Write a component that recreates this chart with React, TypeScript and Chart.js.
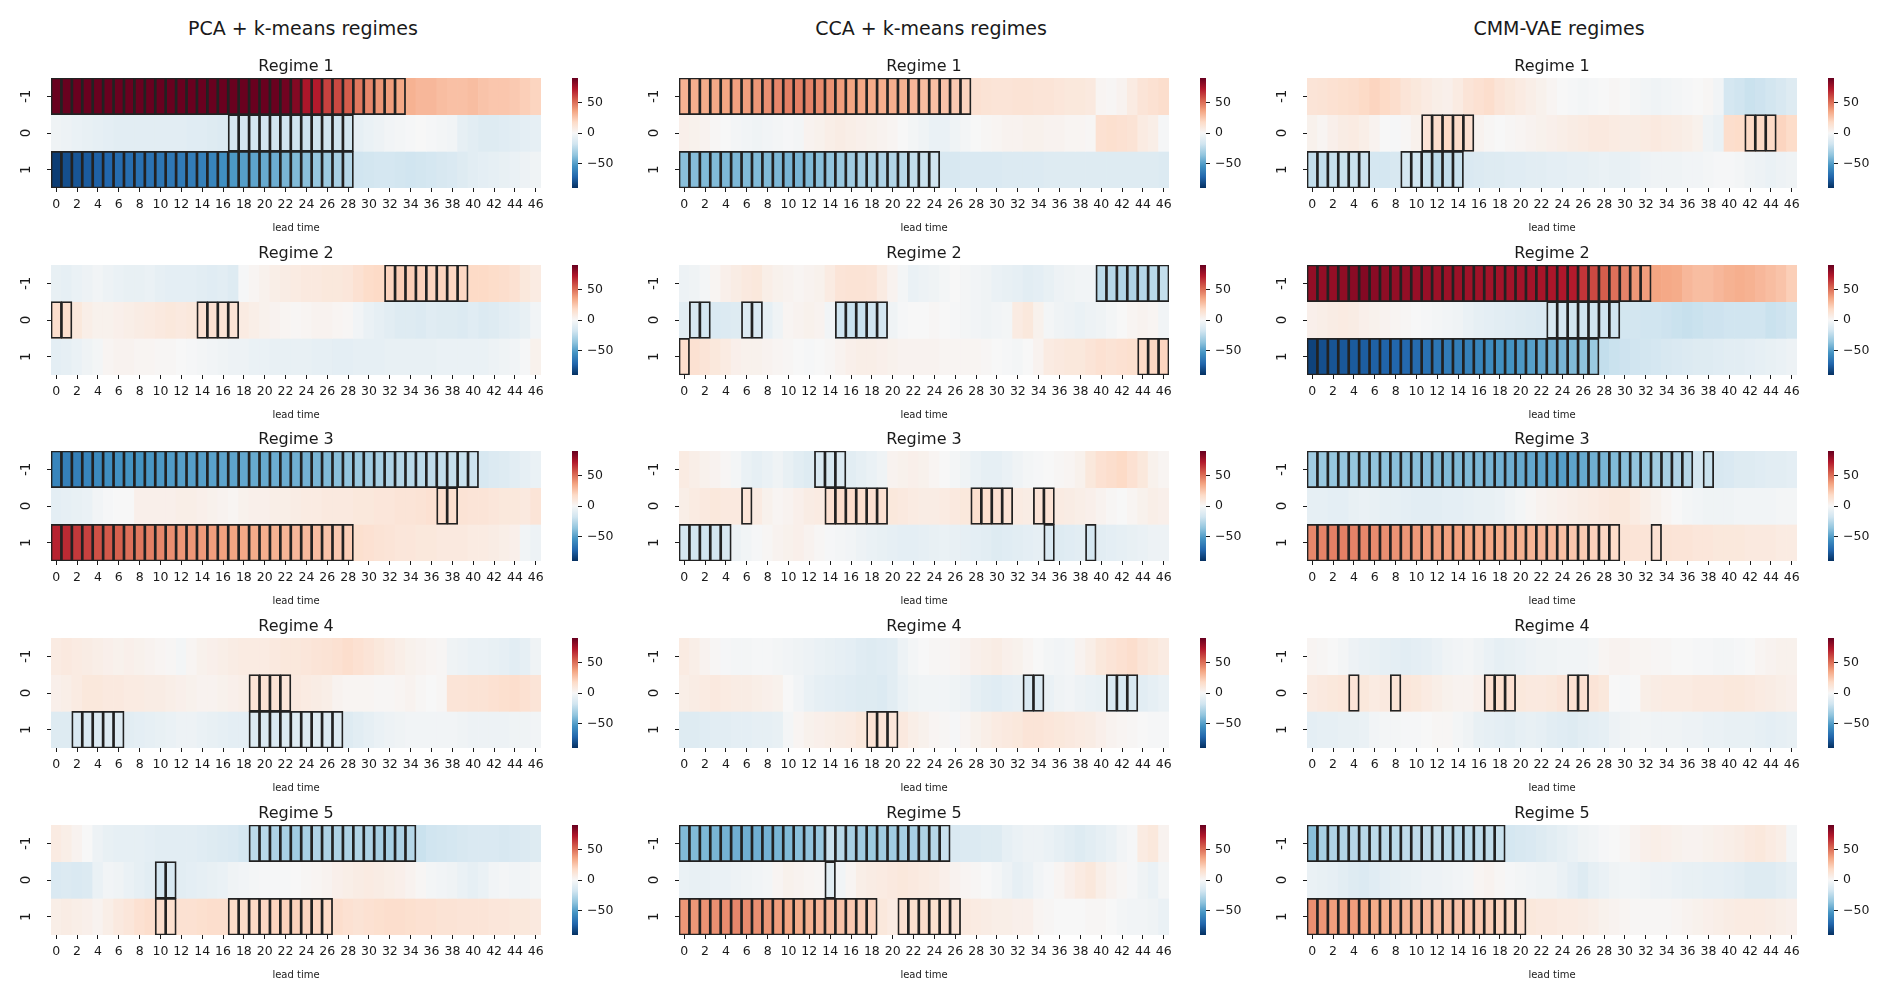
import React, { useEffect, useRef } from 'react';
import { Chart, registerables } from 'chart.js';

Chart.register(...registerables);

const FONT = "'DejaVu Sans', 'Liberation Sans', sans-serif";
const TEXT = '#1a1a1a';

// ---------- labels ----------
const LEAD_TIMES = ['0','1','2','3','4','5','6','7','8','9','10','11','12','13','14','15','16','17','18','19','20','21','22','23','24','25','26','27','28','29','30','31','32','33','34','35','36','37','38','39','40','41','42','43','44','45','46'];
const ROW_LABELS = ['-1', '0', '1'];
const ROW_POS = [-1, 0, 1];
const COLUMN_TITLES = ['PCA + k-means regimes', 'CCA + k-means regimes', 'CMM-VAE regimes'];
const REGIME_TITLES = ['Regime 1', 'Regime 2', 'Regime 3', 'Regime 4', 'Regime 5'];
const X_TITLE = 'lead time';
const CBAR_TICKS = [-50, 0, 50];
const VMIN = -90.5;
const VMAX = 90.5;

// ---------- PCA + k-means ----------
const pcaR1Neg = [90,90,90,90,90,90,90,90,90,90,90,90,90,90,90,90,90,90,90,90,90,90,88,84,74,72,62,60,55,48,44,40,38,35,32,30,30,28,27,27,28,26,25,25,24,22,20];
const pcaR1Zero = [-4,-5,-6,-7,-8,-9,-10,-10,-10,-10,-10,-10,-10,-11,-11,-12,-13,-15,-16,-16,-17,-18,-18,-18,-19,-18,-18,-18,-17,-8,-6,-5,-3,-2,-1,0,-1,-2,-3,-8,-10,-12,-12,-11,-10,-9,-8];
const pcaR1Pos = [-86,-80,-78,-76,-74,-72,-70,-69,-68,-67,-66,-65,-64,-63,-62,-60,-56,-52,-50,-48,-46,-45,-42,-40,-38,-35,-33,-30,-26,-18,-17,-16,-16,-17,-18,-17,-16,-15,-14,-12,-10,-9,-8,-7,-6,-5,-4];
const pcaR2Neg = [-7,-8,-6,-5,-3,-5,-6,-7,-7,-6,-8,-9,-9,-9,-10,-11,-10,-12,-1,2,4,6,7,8,9,9,10,10,11,14,17,18,20,22,22,21,20,20,19,19,18,18,17,16,14,10,8];
const pcaR2Zero = [16,15,10,6,4,4,5,6,7,8,9,10,9,10,14,14,13,13,8,6,4,3,2,1,2,3,3,2,1,-3,-6,-8,-10,-12,-12,-13,-11,-12,-12,-13,-11,-13,-12,-10,-9,-7,-3];
const pcaR2Pos = [-9,-8,-6,-4,-2,2,3,3,2,2,1,1,0,-1,-2,-3,-4,-5,-5,-6,-6,-7,-7,-7,-7,-8,-8,-9,-9,-8,-8,-8,-7,-7,-7,-7,-7,-6,-6,-6,-6,-6,-5,-4,-3,-1,4];
const pcaR3Neg = [-60,-62,-62,-60,-58,-56,-55,-54,-54,-53,-52,-51,-50,-50,-50,-49,-48,-48,-47,-46,-46,-45,-45,-44,-43,-42,-40,-38,-36,-34,-32,-30,-28,-26,-25,-24,-23,-22,-21,-20,-19,-15,-13,-12,-10,-8,-6];
const pcaR3Zero = [-9,-8,-7,-6,-3,-1,0,0,5,5,5,5,6,6,5,4,3,2,4,5,5,6,6,7,8,8,9,9,9,10,10,11,11,12,12,13,14,16,15,13,12,12,11,10,10,9,12];
const pcaR3Pos = [70,68,64,62,58,56,54,50,48,46,44,42,40,40,39,38,37,36,35,34,33,32,31,30,29,28,26,24,22,15,14,13,12,11,11,10,10,9,9,9,8,8,7,6,5,-3,-5];
const pcaR4Neg = [8,9,8,7,6,5,4,5,4,3,2,1,-2,2,4,5,6,7,8,8,8,9,10,10,11,12,13,14,16,14,12,10,8,6,4,3,2,1,-4,-5,-6,-6,-7,-8,-10,-8,-4];
const pcaR4Zero = [5,6,8,10,10,9,9,8,8,7,7,6,5,4,3,3,4,5,6,12,13,13,11,9,8,7,6,3,2,2,2,1,1,2,3,1,0,1,12,12,13,13,14,15,16,14,12];
const pcaR4Pos = [-12,-12,-14,-14,-13,-12,-12,-10,-9,-8,-7,-6,-5,-5,-6,-7,-8,-9,-9,-13,-14,-14,-13,-12,-12,-12,-13,-12,-12,-10,-8,-6,-5,-4,-3,-3,-3,-3,-3,-4,-5,-5,-5,-5,-4,-4,-3];
const pcaR5Neg = [8,6,3,0,-5,-7,-8,-8,-8,-9,-10,-10,-10,-10,-11,-12,-13,-14,-16,-24,-25,-28,-30,-32,-30,-28,-28,-28,-28,-27,-28,-30,-30,-28,-26,-20,-18,-17,-16,-15,-14,-14,-14,-15,-14,-13,-12];
const pcaR5Zero = [-14,-13,-14,-13,-6,-3,-4,-6,-8,-10,-16,-15,-10,-9,-8,-7,-6,-4,-3,-2,-1,-1,-1,0,1,2,3,5,6,7,8,7,6,5,3,1,-2,-3,-4,-6,-8,-6,-3,-2,-3,-3,-2];
const pcaR5Pos = [6,7,6,5,3,6,9,11,14,16,16,15,14,14,15,16,16,17,17,18,19,20,21,21,20,19,18,16,14,13,14,15,16,16,15,14,14,13,13,12,12,12,11,11,10,10,9];

// ---------- CCA + k-means ----------
const ccaR1Neg = [32,33,34,35,36,37,38,40,42,44,46,46,45,43,41,38,36,35,34,33,33,32,30,28,27,26,24,20,14,13,12,12,13,13,12,12,11,10,10,9,2,1,3,8,12,14,16];
const ccaR1Zero = [5,4,3,1,0,-2,-3,-4,-3,-2,-1,-2,3,4,6,7,6,5,4,3,2,0,-2,-4,-6,-6,-4,-2,0,1,2,3,3,4,4,3,3,2,2,1,14,15,14,13,8,6,-1];
const ccaR1Pos = [-38,-39,-40,-40,-41,-41,-40,-40,-40,-41,-42,-42,-40,-38,-36,-34,-32,-30,-29,-28,-27,-25,-22,-20,-18,-15,-15,-14,-14,-14,-14,-13,-13,-13,-13,-12,-12,-12,-12,-12,-12,-12,-12,-12,-12,-12,-13];
const ccaR2Neg = [-5,-4,-2,2,5,7,9,10,6,4,3,2,3,4,8,12,13,13,12,8,3,-2,-6,-5,-4,-2,0,-2,-3,-4,-6,-7,-8,-10,-9,-7,-5,-4,-3,-3,-24,-26,-27,-28,-26,-25,-22];
const ccaR2Zero = [-10,-15,-16,-14,-13,-12,-13,-14,-8,-4,2,3,4,3,-3,-18,-20,-20,-18,-16,-4,-1,0,0,1,0,-1,-2,-3,-4,-3,-2,8,10,4,-2,-4,-5,-6,-5,-4,-2,0,2,3,2,-3];
const ccaR2Pos = [16,14,12,10,8,5,4,4,3,2,1,0,-1,0,1,3,5,6,6,5,4,3,3,3,3,2,2,2,2,1,0,-1,-2,0,3,8,9,10,10,12,14,13,14,15,18,19,20];
const ccaR3Neg = [8,6,4,3,1,-2,-6,-8,-6,-4,-7,-10,-12,-14,-15,-13,-10,-8,-6,-4,3,4,5,4,2,0,-2,-4,-6,-8,-8,-6,-4,-2,-1,0,1,2,4,10,14,16,18,14,10,4,2];
const ccaR3Zero = [6,8,9,10,9,9,12,8,4,2,3,5,7,8,14,16,16,15,14,14,10,9,8,7,7,8,9,10,15,15,14,13,8,7,12,13,8,7,6,5,3,1,0,2,4,6,5];
const ccaR3Pos = [-16,-17,-18,-17,-15,-5,-3,-1,1,3,4,5,3,1,-1,-2,-3,-5,-6,-7,-8,-9,-9,-8,-7,-6,-7,-8,-9,-10,-12,-11,-10,-9,-8,-14,-12,-11,-10,-16,-10,-9,-8,-7,-6,-5,-5];
const ccaR4Neg = [8,6,3,1,-1,-2,-2,-1,-1,-2,-3,-4,-5,-6,-7,-8,-9,-11,-12,-11,-10,-5,-2,0,1,1,2,3,5,6,7,5,4,2,0,-2,-3,-2,3,6,10,12,14,16,12,10,8];
const ccaR4Zero = [6,7,8,9,8,7,7,6,5,4,0,-3,-6,-8,-9,-10,-11,-12,-12,-13,-10,-6,-4,-3,-3,-3,-4,-5,-8,-10,-11,-9,-8,-14,-13,-6,-4,-3,-5,-6,-7,-14,-15,-15,-10,-8,-6];
const ccaR4Pos = [-12,-12,-11,-10,-10,-9,-9,-8,-8,-7,-2,2,4,5,6,7,8,10,13,12,11,9,6,4,2,1,-1,2,4,6,8,9,10,12,12,11,10,9,8,7,5,3,2,1,0,-1,-1];
const ccaR5Neg = [-40,-40,-41,-42,-43,-44,-44,-44,-43,-42,-40,-38,-36,-34,-20,-25,-30,-32,-33,-32,-32,-30,-30,-28,-26,-20,-14,-13,-13,-12,-12,-8,-6,-5,-5,-6,-8,-10,-12,-10,-8,-6,-3,-1,8,10,3];
const ccaR5Zero = [-6,-7,-7,-6,-6,-5,-4,-3,-2,2,4,3,2,1,-10,-3,2,6,7,8,9,10,9,8,7,5,3,2,1,0,-2,-5,-8,-6,-3,-1,2,5,8,10,6,3,1,-1,-4,-6,-2];
const ccaR5Pos = [40,40,41,42,43,44,43,42,40,38,36,34,32,30,28,26,24,22,20,10,8,14,15,16,15,14,13,9,8,7,6,6,5,5,2,1,0,0,0,1,1,0,-2,-3,-3,-4,-6];

// ---------- CMM-VAE ----------
const cmmR1Neg = [12,13,14,15,16,18,20,18,16,12,10,8,6,5,8,12,14,16,12,10,8,6,4,2,0,-1,-2,-1,0,1,0,-2,-3,-4,-3,-2,-1,0,1,-3,-16,-18,-20,-19,-17,-15,-12];
const cmmR1Zero = [4,2,5,7,8,6,3,0,-1,1,4,12,16,18,17,14,3,1,0,1,2,3,4,5,6,7,8,9,9,8,7,7,8,9,8,7,6,4,-4,-6,16,17,18,18,18,20,17];
const cmmR1Pos = [-22,-22,-21,-20,-20,-19,-16,-16,-15,-16,-18,-20,-24,-22,-20,-14,-13,-12,-12,-11,-11,-10,-10,-9,-9,-8,-8,-7,-6,-7,-7,-6,-5,-4,-4,-4,-3,-3,-2,-1,-1,-2,-4,-5,-6,-5,-4];
const cmmR2Neg = [80,80,80,81,82,84,82,81,80,80,79,79,78,78,78,77,77,76,76,76,76,76,75,74,73,72,65,60,55,50,45,40,38,36,35,34,30,28,28,30,32,33,32,30,28,26,22];
const cmmR2Zero = [5,6,7,8,7,5,4,3,2,1,0,-1,-2,-3,-4,-6,-8,-9,-10,-11,-12,-13,-14,-15,-16,-17,-18,-18,-18,-18,-17,-17,-18,-18,-19,-20,-21,-20,-19,-19,-18,-18,-18,-18,-20,-19,-17];
const cmmR2Pos = [-84,-80,-78,-77,-76,-75,-74,-73,-72,-71,-70,-68,-66,-64,-63,-62,-60,-57,-55,-54,-52,-50,-47,-44,-42,-40,-37,-34,-22,-20,-19,-18,-17,-16,-15,-14,-13,-12,-12,-11,-10,-10,-9,-8,-7,-6,-5];
const cmmR3Neg = [-32,-34,-35,-35,-35,-36,-36,-37,-38,-38,-38,-39,-40,-40,-40,-40,-41,-42,-43,-44,-46,-47,-48,-49,-50,-48,-46,-44,-42,-40,-38,-36,-34,-32,-30,-28,-26,-16,-20,-15,-14,-12,-12,-11,-10,-10,-9];
const cmmR3Zero = [-8,-8,-9,-9,-7,-6,-7,-8,-8,-9,-10,-10,-10,-9,-9,-8,-7,-7,-6,-4,-2,1,3,4,5,6,7,8,9,10,10,8,6,4,2,0,-2,-3,-4,-4,-4,-3,-3,-3,-3,-2,-2];
const cmmR3Pos = [44,45,46,46,45,44,43,42,41,40,39,38,38,37,37,36,35,35,34,33,32,31,30,29,27,25,23,21,19,17,13,12,12,14,13,12,12,11,11,10,10,10,9,9,9,8,8];
const cmmR4Neg = [2,1,0,-2,-5,-6,-7,-8,-9,-10,-9,-8,-6,-4,-3,-2,-4,-6,-8,-7,-6,-5,-4,-4,-3,-3,-3,-2,2,3,3,2,2,1,1,0,0,-1,-1,-2,-2,-1,0,2,3,4,4];
const cmmR4Zero = [8,9,10,11,12,10,8,9,12,11,10,8,6,4,3,3,5,14,15,14,10,9,9,10,12,14,14,12,10,0,-1,0,6,7,8,8,8,9,9,9,10,10,9,8,7,6,5];
const cmmR4Pos = [-9,-8,-8,-7,-7,-6,-3,-2,-2,-1,-1,0,1,1,-2,-4,-7,-8,-9,-10,-8,-7,-8,-10,-11,-12,-10,-9,-8,-5,-4,-3,-3,-4,-4,-4,-5,-5,-6,-6,-7,-7,-7,-8,-9,-8,-7];
const cmmR5Neg = [-38,-30,-28,-27,-26,-25,-24,-24,-24,-23,-23,-23,-23,-24,-25,-24,-23,-22,-20,-16,-15,-14,-12,-10,-8,-6,-4,-3,-1,0,1,3,5,6,5,4,3,3,4,5,6,7,9,10,8,6,-2];
const cmmR5Zero = [-6,-7,-8,-10,-12,-13,-11,-9,-8,-7,-6,-5,-5,-4,-3,-2,2,3,1,-1,-2,-3,-4,-4,-6,-9,-12,-8,-6,-4,-3,-3,-4,-5,-5,-6,-7,-7,-8,-8,-9,-10,-12,-12,-12,-10,-8];
const cmmR5Pos = [42,40,38,37,38,36,34,33,32,31,30,29,28,27,26,25,24,22,20,18,16,10,9,9,8,8,7,6,4,3,2,1,1,1,1,2,3,4,5,6,7,8,8,8,7,6,5];

// ---------- outlined (significant) cells: [first, last] lead-time ranges per row (-1, 0, 1) ----------
const pcaBoxes = [
  [[[0, 33]], [[17, 28]], [[0, 28]]],
  [[[32, 39]], [[0, 1], [14, 17]], []],
  [[[0, 40]], [[37, 38]], [[0, 28]]],
  [[], [[19, 22]], [[2, 6], [19, 27]]],
  [[[19, 34]], [[10, 11]], [[10, 11], [17, 26]]],
];
const ccaBoxes = [
  [[[0, 27]], [], [[0, 24]]],
  [[[40, 46]], [[1, 2], [6, 7], [15, 19]], [[0, 0], [44, 46]]],
  [[[13, 15]], [[6, 6], [14, 19], [28, 31], [34, 35]], [[0, 4], [35, 35], [39, 39]]],
  [[], [[33, 34], [41, 43]], [[18, 20]]],
  [[[0, 25]], [[14, 14]], [[0, 18], [21, 26]]],
];
const cmmBoxes = [
  [[], [[11, 15], [42, 44]], [[0, 5], [9, 14]]],
  [[[0, 32]], [[23, 29]], [[0, 27]]],
  [[[0, 36], [38, 38]], [], [[0, 29], [33, 33]]],
  [[], [[4, 4], [8, 8], [17, 19], [25, 26]], []],
  [[[0, 18]], [], [[0, 20]]],
];

const COLUMNS = [
  { rows: [[pcaR1Neg, pcaR1Zero, pcaR1Pos], [pcaR2Neg, pcaR2Zero, pcaR2Pos], [pcaR3Neg, pcaR3Zero, pcaR3Pos], [pcaR4Neg, pcaR4Zero, pcaR4Pos], [pcaR5Neg, pcaR5Zero, pcaR5Pos]], boxes: pcaBoxes },
  { rows: [[ccaR1Neg, ccaR1Zero, ccaR1Pos], [ccaR2Neg, ccaR2Zero, ccaR2Pos], [ccaR3Neg, ccaR3Zero, ccaR3Pos], [ccaR4Neg, ccaR4Zero, ccaR4Pos], [ccaR5Neg, ccaR5Zero, ccaR5Pos]], boxes: ccaBoxes },
  { rows: [[cmmR1Neg, cmmR1Zero, cmmR1Pos], [cmmR2Neg, cmmR2Zero, cmmR2Pos], [cmmR3Neg, cmmR3Zero, cmmR3Pos], [cmmR4Neg, cmmR4Zero, cmmR4Pos], [cmmR5Neg, cmmR5Zero, cmmR5Pos]], boxes: cmmBoxes },
];

// ---------- colormap (RdBu_r) ----------
const RDBU_R = [
  [5, 48, 97], [33, 102, 172], [67, 147, 195], [146, 197, 222], [209, 229, 240],
  [247, 247, 247], [253, 219, 199], [244, 165, 130], [214, 96, 77], [178, 24, 43], [103, 0, 31],
];
function colorFor(v: number): string {
  let t = (v - VMIN) / (VMAX - VMIN);
  t = Math.max(0, Math.min(1, t));
  const s = t * 10;
  const i = Math.min(9, Math.floor(s));
  const f = s - i;
  const a = RDBU_R[i];
  const b = RDBU_R[i + 1];
  const c = a.map((x, k) => Math.round(x + (b[k] - x) * f));
  return `rgb(${c[0]},${c[1]},${c[2]})`;
}

// ---------- layout ----------
const COL_LEFT = [51, 679, 1307];
const ROW_TOP = [78, 265, 451, 638, 825];
const PLOT_W = 490;
const PLOT_H = 110;
const Y_AXIS_W = 51;
const TITLE_H = 30;
const X_AXIS_H = 46;
const RIGHT_PAD = 20;
const CBAR_OFFSET = 521;
const CBAR_W = 6;

function inRanges(i: number, ranges: number[][]) {
  return ranges.some(([a, b]) => i >= a && i <= b);
}

const xTickFont = { family: FONT, size: 12.5 };
const yTickFont = { family: FONT, size: 13.5 };

function heatmapConfig(title: string, rows: number[][], boxes: number[][][]): any {
  const datasets: any[] = [];
  rows.forEach((vals, r) => {
    const y = ROW_POS[r];
    datasets.push({
      data: vals.map(() => [y - 0.5, y + 0.5]),
      backgroundColor: vals.map(colorFor),
      borderWidth: 0,
      grouped: false,
      barPercentage: 1,
      categoryPercentage: 1,
      order: 1,
    });
  });
  boxes.forEach((ranges, r) => {
    const y = ROW_POS[r];
    datasets.push({
      data: LEAD_TIMES.map((_, i) => (inRanges(i, ranges) ? [y - 0.5, y + 0.5] : null)),
      backgroundColor: 'rgba(0,0,0,0)',
      borderColor: '#222222',
      borderWidth: 0.9,
      borderSkipped: false,
      inflateAmount: 0.45,
      grouped: false,
      barPercentage: 1,
      categoryPercentage: 1,
      order: 0,
    });
  });
  const grid = { display: true, offset: false, drawOnChartArea: false, drawTicks: true, tickLength: 4, tickWidth: 1, tickColor: TEXT };
  return {
    type: 'bar',
    data: { labels: LEAD_TIMES, datasets },
    options: {
      responsive: false,
      maintainAspectRatio: false,
      animation: false,
      events: [],
      layout: { padding: { left: 0, right: RIGHT_PAD, top: 0, bottom: 0 } },
      plugins: {
        legend: { display: false },
        tooltip: { enabled: false },
        title: {
          display: true,
          text: title,
          fullSize: false,
          color: TEXT,
          font: { family: FONT, size: 16, weight: 'normal' },
          padding: { top: 8.8, bottom: 2 },
        },
      },
      scales: {
        x: {
          type: 'category',
          offset: true,
          grid,
          border: { display: false },
          ticks: {
            autoSkip: false,
            minRotation: 0,
            maxRotation: 0,
            padding: 5.5,
            color: TEXT,
            font: xTickFont,
            callback: (_v: any, i: number) => (i % 2 === 0 ? LEAD_TIMES[i] : null),
          },
          title: { display: true, text: X_TITLE, color: TEXT, font: { family: FONT, size: 10 }, padding: { top: 0, bottom: 0 } },
          afterFit: (s: any) => { s.height = X_AXIS_H; },
        },
        y: {
          type: 'linear',
          min: -1.5,
          max: 1.5,
          reverse: true,
          afterBuildTicks: (s: any) => { s.ticks = ROW_POS.map((v) => ({ value: v })); },
          grid,
          border: { display: false },
          ticks: {
            minRotation: 90,
            maxRotation: 90,
            crossAlign: 'center',
            padding: 14,
            color: TEXT,
            font: yTickFont,
            callback: (v: any) => ROW_LABELS[ROW_POS.indexOf(Number(v))],
          },
          afterFit: (s: any) => { s.width = Y_AXIS_W; },
        },
      },
    },
  };
}

function colorbarConfig(): any {
  return {
    type: 'bar',
    data: {
      labels: [''],
      datasets: [{
        data: [[VMIN, VMAX]],
        backgroundColor: (c: any) => {
          const chart = c.chart;
          const area = chart.chartArea;
          if (!area) return 'rgba(0,0,0,0)';
          const g = chart.ctx.createLinearGradient(0, area.bottom, 0, area.top);
          RDBU_R.forEach((col, k) => g.addColorStop(k / 10, `rgb(${col[0]},${col[1]},${col[2]})`));
          return g;
        },
        borderWidth: 0,
        inflateAmount: 0,
        barPercentage: 1,
        categoryPercentage: 1,
      }],
    },
    options: {
      responsive: false,
      maintainAspectRatio: false,
      animation: false,
      events: [],
      layout: { padding: { left: 2, right: 0, top: 20, bottom: 20 } },
      plugins: { legend: { display: false }, tooltip: { enabled: false }, title: { display: false } },
      scales: {
        x: { display: false, offset: true },
        y: {
          position: 'right',
          min: VMIN,
          max: VMAX,
          afterBuildTicks: (s: any) => { s.ticks = CBAR_TICKS.map((v) => ({ value: v })); },
          grid: { display: true, drawOnChartArea: false, drawTicks: true, tickLength: 4, tickWidth: 1, tickColor: TEXT },
          border: { display: false },
          ticks: {
            padding: 5,
            color: TEXT,
            font: xTickFont,
            callback: (v: any) => (Number(v) < 0 ? '\u2212' + Math.abs(Number(v)) : String(v)),
          },
          afterFit: (s: any) => { s.width = 50; },
        },
      },
    },
  };
}

function ChartCanvas({ left, top, width, height, makeConfig }: any) {
  const ref = useRef<HTMLCanvasElement>(null);
  useEffect(() => {
    if (!ref.current) return;
    const chart = new Chart(ref.current, makeConfig());
    return () => chart.destroy();
  }, []);
  return (
    <canvas
      ref={ref}
      width={width}
      height={height}
      style={{ position: 'absolute', left, top, width, height }}
    />
  );
}

export default function App() {
  Chart.defaults.font.family = FONT;
  Chart.defaults.color = TEXT;
  const items: any[] = [];
  COLUMNS.forEach((col, c) => {
    const colLeft = COL_LEFT[c];
    col.rows.forEach((rows, r) => {
      const top = ROW_TOP[r];
      items.push(
        <ChartCanvas
          key={`h-${c}-${r}`}
          left={colLeft - Y_AXIS_W}
          top={top - TITLE_H}
          width={Y_AXIS_W + PLOT_W + RIGHT_PAD}
          height={TITLE_H + PLOT_H + X_AXIS_H}
          makeConfig={() => heatmapConfig(REGIME_TITLES[r], rows, col.boxes[r])}
        />
      );
      items.push(
        <ChartCanvas
          key={`cb-${c}-${r}`}
          left={colLeft + CBAR_OFFSET - 2}
          top={top - 20}
          width={2 + CBAR_W + 50}
          height={20 + PLOT_H + 20}
          makeConfig={colorbarConfig}
        />
      );
    });
  });
  return (
    <div style={{ position: 'absolute', left: 0, top: 0, width: 1892, height: 1000, background: '#fff', overflow: 'hidden' }}>
      {COLUMN_TITLES.map((t, c) => (
        <div
          key={t}
          style={{
            position: 'absolute',
            left: COL_LEFT[c] + PLOT_W / 2 + 7 - 200,
            top: 17,
            width: 400,
            textAlign: 'center',
            fontFamily: FONT,
            fontSize: 19,
            lineHeight: '22px',
            color: TEXT,
          }}
        >
          {t}
        </div>
      ))}
      {items}
    </div>
  );
}
